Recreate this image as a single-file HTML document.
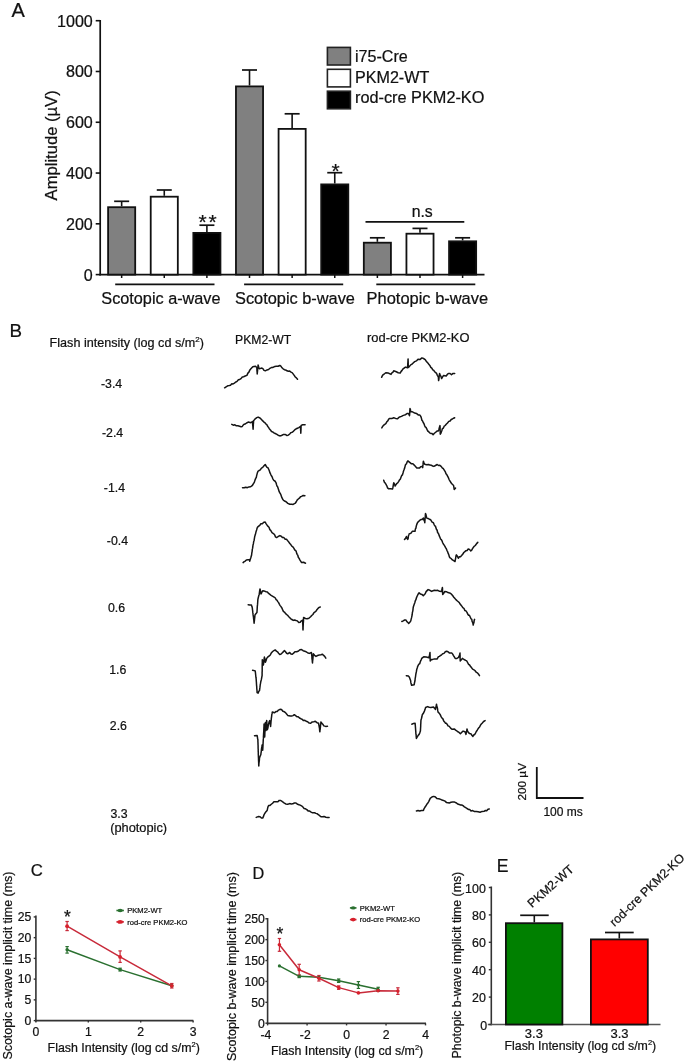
<!DOCTYPE html>
<html><head><meta charset="utf-8"><style>
html,body{margin:0;padding:0;background:#fff;}
body{width:685px;height:1063px;overflow:hidden;}
svg{display:block;font-family:"Liberation Sans", sans-serif;filter:blur(0.35px);}
text{stroke:#111;stroke-width:0.22px;}
</style></head><body>
<svg width="685" height="1063" viewBox="0 0 685 1063">
<rect width="685" height="1063" fill="#fff"/>
<text x="11.5" y="17" font-size="20" text-anchor="start" fill="#111" >A</text>
<line x1="100.2" y1="19.900000000000016" x2="100.2" y2="275.4" stroke="#111" stroke-width="1.7"/>
<line x1="95.7" y1="274.6" x2="100.2" y2="274.6" stroke="#111" stroke-width="1.6"/>
<text x="92.8" y="280.5" font-size="16.1" text-anchor="end" fill="#111" >0</text>
<line x1="95.7" y1="223.82000000000002" x2="100.2" y2="223.82000000000002" stroke="#111" stroke-width="1.6"/>
<text x="92.8" y="229.72000000000003" font-size="16.1" text-anchor="end" fill="#111" >200</text>
<line x1="95.7" y1="173.04000000000002" x2="100.2" y2="173.04000000000002" stroke="#111" stroke-width="1.6"/>
<text x="92.8" y="178.94000000000003" font-size="16.1" text-anchor="end" fill="#111" >400</text>
<line x1="95.7" y1="122.26000000000002" x2="100.2" y2="122.26000000000002" stroke="#111" stroke-width="1.6"/>
<text x="92.8" y="128.16000000000003" font-size="16.1" text-anchor="end" fill="#111" >600</text>
<line x1="95.7" y1="71.48000000000002" x2="100.2" y2="71.48000000000002" stroke="#111" stroke-width="1.6"/>
<text x="92.8" y="77.38000000000002" font-size="16.1" text-anchor="end" fill="#111" >800</text>
<line x1="95.7" y1="20.700000000000017" x2="100.2" y2="20.700000000000017" stroke="#111" stroke-width="1.6"/>
<text x="92.8" y="26.600000000000016" font-size="16.1" text-anchor="end" fill="#111" >1000</text>
<line x1="99.4" y1="274.6" x2="484.5" y2="274.6" stroke="#111" stroke-width="1.7"/>
<text transform="translate(56.5,200.4) rotate(-90)" font-size="16.6" fill="#111">Amplitude (µV)</text>
<line x1="121.65" y1="201.3" x2="121.65" y2="206.3" stroke="#111" stroke-width="1.6"/>
<line x1="114.15" y1="201.3" x2="129.15" y2="201.3" stroke="#111" stroke-width="1.7"/>
<rect x="108.10000000000001" y="207.20000000000002" width="27.099999999999998" height="67.4" fill="#808080" stroke="#111" stroke-width="1.8"/>
<line x1="121.65" y1="274.6" x2="121.65" y2="278" stroke="#111" stroke-width="1.5"/>
<line x1="164.26999999999998" y1="190.0" x2="164.26999999999998" y2="195.8" stroke="#111" stroke-width="1.6"/>
<line x1="156.76999999999998" y1="190.0" x2="171.76999999999998" y2="190.0" stroke="#111" stroke-width="1.7"/>
<rect x="150.72" y="196.70000000000002" width="27.099999999999998" height="77.9" fill="#ffffff" stroke="#111" stroke-width="1.8"/>
<line x1="164.26999999999998" y1="274.6" x2="164.26999999999998" y2="278" stroke="#111" stroke-width="1.5"/>
<line x1="206.89" y1="225.2" x2="206.89" y2="232.0" stroke="#111" stroke-width="1.6"/>
<line x1="199.39" y1="225.2" x2="214.39" y2="225.2" stroke="#111" stroke-width="1.7"/>
<rect x="193.34" y="232.9" width="27.099999999999998" height="41.700000000000024" fill="#000000" stroke="#111" stroke-width="1.8"/>
<line x1="206.89" y1="274.6" x2="206.89" y2="278" stroke="#111" stroke-width="1.5"/>
<line x1="249.51" y1="70.0" x2="249.51" y2="85.5" stroke="#111" stroke-width="1.6"/>
<line x1="242.01" y1="70.0" x2="257.01" y2="70.0" stroke="#111" stroke-width="1.7"/>
<rect x="235.96" y="86.4" width="27.099999999999998" height="188.20000000000002" fill="#808080" stroke="#111" stroke-width="1.8"/>
<line x1="249.51" y1="274.6" x2="249.51" y2="278" stroke="#111" stroke-width="1.5"/>
<line x1="292.13" y1="113.8" x2="292.13" y2="128.0" stroke="#111" stroke-width="1.6"/>
<line x1="284.63" y1="113.8" x2="299.63" y2="113.8" stroke="#111" stroke-width="1.7"/>
<rect x="278.58" y="128.9" width="27.099999999999998" height="145.70000000000002" fill="#ffffff" stroke="#111" stroke-width="1.8"/>
<line x1="292.13" y1="274.6" x2="292.13" y2="278" stroke="#111" stroke-width="1.5"/>
<line x1="334.75" y1="172.7" x2="334.75" y2="183.5" stroke="#111" stroke-width="1.6"/>
<line x1="327.25" y1="172.7" x2="342.25" y2="172.7" stroke="#111" stroke-width="1.7"/>
<rect x="321.2" y="184.4" width="27.099999999999998" height="90.20000000000002" fill="#000000" stroke="#111" stroke-width="1.8"/>
<line x1="334.75" y1="274.6" x2="334.75" y2="278" stroke="#111" stroke-width="1.5"/>
<line x1="377.36999999999995" y1="237.8" x2="377.36999999999995" y2="241.8" stroke="#111" stroke-width="1.6"/>
<line x1="369.86999999999995" y1="237.8" x2="384.86999999999995" y2="237.8" stroke="#111" stroke-width="1.7"/>
<rect x="363.81999999999994" y="242.70000000000002" width="27.099999999999998" height="31.900000000000013" fill="#808080" stroke="#111" stroke-width="1.8"/>
<line x1="377.36999999999995" y1="274.6" x2="377.36999999999995" y2="278" stroke="#111" stroke-width="1.5"/>
<line x1="419.98999999999995" y1="228.4" x2="419.98999999999995" y2="232.8" stroke="#111" stroke-width="1.6"/>
<line x1="412.48999999999995" y1="228.4" x2="427.48999999999995" y2="228.4" stroke="#111" stroke-width="1.7"/>
<rect x="406.43999999999994" y="233.70000000000002" width="27.099999999999998" height="40.90000000000001" fill="#ffffff" stroke="#111" stroke-width="1.8"/>
<line x1="419.98999999999995" y1="274.6" x2="419.98999999999995" y2="278" stroke="#111" stroke-width="1.5"/>
<line x1="462.60999999999996" y1="237.8" x2="462.60999999999996" y2="240.4" stroke="#111" stroke-width="1.6"/>
<line x1="455.10999999999996" y1="237.8" x2="470.10999999999996" y2="237.8" stroke="#111" stroke-width="1.7"/>
<rect x="449.05999999999995" y="241.3" width="27.099999999999998" height="33.30000000000002" fill="#000000" stroke="#111" stroke-width="1.8"/>
<line x1="462.60999999999996" y1="274.6" x2="462.60999999999996" y2="278" stroke="#111" stroke-width="1.5"/>
<line x1="115.2" y1="284.3" x2="214.5" y2="284.3" stroke="#111" stroke-width="1.7"/>
<line x1="244.1" y1="284.3" x2="343.2" y2="284.3" stroke="#111" stroke-width="1.7"/>
<line x1="376.3" y1="284.3" x2="475.3" y2="284.3" stroke="#111" stroke-width="1.7"/>
<text x="101.3" y="303.6" font-size="16.25" text-anchor="start" fill="#111" >Scotopic a-wave</text>
<text x="235.0" y="303.8" font-size="16.35" text-anchor="start" fill="#111" >Scotopic b-wave</text>
<text x="366.6" y="303.6" font-size="16.45" text-anchor="start" fill="#111" >Photopic b-wave</text>
<text x="198.4" y="229.4" font-size="21" text-anchor="start" fill="#111" >*</text>
<text x="208.4" y="229.4" font-size="21" text-anchor="start" fill="#111" >*</text>
<text x="331.4" y="177.6" font-size="21" text-anchor="start" fill="#111" >*</text>
<line x1="365.5" y1="221.8" x2="464.3" y2="221.8" stroke="#111" stroke-width="1.8"/>
<text x="411.7" y="217.0" font-size="15.8" text-anchor="start" fill="#111" >n.s</text>
<rect x="327.4" y="47.4" width="23.0" height="17.6" fill="#808080" stroke="#222" stroke-width="1.6"/>
<rect x="327.4" y="69.3" width="23.0" height="17.6" fill="#ffffff" stroke="#222" stroke-width="1.6"/>
<rect x="327.4" y="91.2" width="23.0" height="17.6" fill="#000000" stroke="#222" stroke-width="1.6"/>
<text x="355.0" y="62.3" font-size="16.1" text-anchor="start" fill="#111" >i75-Cre</text>
<text x="355.0" y="83.2" font-size="16.1" text-anchor="start" fill="#111" >PKM2-WT</text>
<text x="355.0" y="102.5" font-size="16.3" text-anchor="start" fill="#111" >rod-cre PKM2-KO</text>
<text x="9.6" y="337.3" font-size="18.8" text-anchor="start" fill="#111" >B</text>
<text x="49.6" y="346.8" font-size="12.6" fill="#111">Flash intensity (log cd s/m<tspan font-size="8" dy="-4.5">2</tspan><tspan dy="4.5">)</tspan></text>
<text x="235.0" y="343.5" font-size="12.2" text-anchor="start" fill="#111" >PKM2-WT</text>
<text x="367.0" y="341.8" font-size="12.9" text-anchor="start" fill="#111" >rod-cre PKM2-KO</text>
<text x="101.0" y="387.9" font-size="12.3" text-anchor="start" fill="#111" >-3.4</text>
<text x="102.0" y="437.0" font-size="12.3" text-anchor="start" fill="#111" >-2.4</text>
<text x="103.8" y="492.3" font-size="12.3" text-anchor="start" fill="#111" >-1.4</text>
<text x="106.8" y="544.6" font-size="12.3" text-anchor="start" fill="#111" >-0.4</text>
<text x="108.0" y="611.9" font-size="12.3" text-anchor="start" fill="#111" >0.6</text>
<text x="109.2" y="673.9" font-size="12.3" text-anchor="start" fill="#111" >1.6</text>
<text x="109.8" y="729.8" font-size="12.3" text-anchor="start" fill="#111" >2.6</text>
<text x="110.4" y="817.5" font-size="12.3" text-anchor="start" fill="#111" >3.3</text>
<text x="110.2" y="831.6" font-size="12.8" text-anchor="start" fill="#111" >(photopic)</text>
<polyline points="224.6,387.8 226.1,386.8 227.7,385.8 229.2,385.5 230.5,385.2 231.8,383.8 233.1,383.9 234.4,383.1 235.8,382.0 237.1,381.3 238.4,379.8 239.7,379.5 241.0,378.6 242.3,377.0 243.6,376.7 245.2,376.0 246.9,375.4 247.9,373.1 248.9,372.1 249.9,369.9 250.9,368.8 252.8,366.8 255.5,366.2 256.8,367.5 256.9,369.0 257.0,371.2 257.1,371.8 257.2,374.0 257.4,372.1 257.5,371.1 257.6,370.1 257.8,368.0 258.0,366.3 258.1,364.9 258.8,367.5 259.4,368.8 261.4,368.1 262.7,368.4 264.0,370.4 265.3,370.8 267.0,369.9 268.6,369.5 269.9,368.3 271.3,367.6 272.6,367.5 274.6,366.6 276.5,366.2 278.1,366.3 279.8,365.5 280.9,366.2 282.0,367.8 283.1,368.8 284.4,369.7 285.7,370.0 287.0,370.8 288.3,371.3 289.7,371.1 291.0,372.1 292.1,372.6 293.1,373.9 294.2,375.4 295.3,377.0 296.4,377.9 297.5,379.3" fill="none" stroke="#141414" stroke-width="1.5" stroke-linejoin="round" stroke-linecap="round"/>
<polyline points="381.6,377.3 382.4,375.7 383.1,374.7 384.5,373.8 385.8,372.7 388.4,373.1 389.7,373.7 391.0,374.4 391.9,372.9 392.8,372.4 393.7,370.8 396.3,371.8 398.2,372.7 400.2,373.1 401.1,371.4 401.9,370.6 402.8,369.2 404.1,368.2 405.5,367.1 407.5,367.8 407.6,366.8 407.7,365.2 407.8,363.1 407.9,362.5 408.0,359.8 408.1,358.9 408.1,360.2 408.2,362.1 408.2,362.7 408.2,364.6 408.3,365.4 408.3,367.5 409.5,366.4 410.7,364.9 412.0,364.2 413.4,362.8 414.7,361.6 416.4,360.9 418.0,359.2 419.9,359.6 421.9,357.9 423.5,358.5 425.2,359.6 426.1,361.0 426.9,361.9 427.8,362.9 428.8,364.3 429.8,365.4 430.8,367.3 431.8,368.1 432.8,369.9 433.8,370.4 434.7,371.8 435.7,372.7 436.6,373.4 437.4,375.6 438.3,376.7 438.5,378.9 438.6,380.6 438.8,379.9 439.0,378.2 439.2,376.0 439.4,374.7 439.6,373.4 440.3,375.4 440.9,376.2 441.6,378.6 442.6,376.9 443.6,375.4 446.2,376.0 447.5,374.2 448.8,373.4 450.1,373.5 451.5,374.7 453.1,373.4 454.7,373.4" fill="none" stroke="#141414" stroke-width="1.5" stroke-linejoin="round" stroke-linecap="round"/>
<polyline points="231.8,424.4 233.3,425.2 234.9,424.8 236.4,425.8 237.9,425.7 239.5,426.2 241.0,426.7 242.3,426.4 243.7,424.4 245.0,424.1 246.6,423.0 248.2,422.1 250.9,422.7 252.5,421.5 252.6,423.1 252.7,425.2 252.9,426.6 253.0,428.2 253.1,429.3 253.2,427.5 253.3,426.2 253.3,424.7 253.4,424.0 253.5,422.6 253.6,420.5 254.2,420.1 255.5,418.6 256.8,417.6 258.1,417.1 259.4,417.7 260.7,418.7 262.0,420.1 263.0,421.1 264.0,422.2 265.0,422.8 266.0,424.1 266.8,424.6 267.6,426.3 268.5,427.4 269.3,428.7 270.4,429.9 271.5,431.5 272.6,431.9 273.9,432.9 275.2,433.5 276.5,434.2 278.1,435.2 279.8,435.9 281.5,435.5 283.1,434.6 285.1,434.4 287.0,435.5 288.3,435.1 289.7,434.0 291.0,432.6 292.3,432.2 293.6,431.1 294.9,429.7 296.2,428.8 297.5,428.2 298.8,427.6 300.5,426.5 300.6,427.6 300.6,430.0 300.7,430.9 300.8,433.2 300.9,431.1 301.0,429.7 301.0,428.1 301.1,426.8 301.2,425.5 302.8,424.7 305.1,424.7" fill="none" stroke="#141414" stroke-width="1.5" stroke-linejoin="round" stroke-linecap="round"/>
<polyline points="381.8,427.9 382.8,426.2 383.8,425.1 384.8,424.3 385.8,423.7 386.8,421.8 387.8,420.9 388.7,419.1 389.7,418.4 391.7,418.6 393.7,417.7 395.6,418.4 397.6,418.7 398.9,417.4 400.2,416.8 401.5,416.4 402.8,415.6 404.2,415.1 405.5,414.7 407.0,413.6 408.5,413.5 409.5,415.8 409.6,414.8 409.7,413.6 409.8,411.4 409.9,409.9 410.0,408.5 410.4,409.6 410.7,411.8 412.0,411.7 413.4,412.4 414.7,413.1 416.4,413.4 418.2,414.9 419.9,415.1 420.6,416.1 421.2,417.4 421.9,420.2 422.6,421.0 423.2,422.5 423.9,423.5 424.6,425.5 425.2,426.9 426.0,427.4 426.9,429.2 427.7,431.0 428.5,431.5 429.6,432.8 430.8,433.4 432.0,433.6 433.1,434.8 434.4,433.3 435.7,432.2 437.0,431.1 438.3,430.9 438.9,429.5 439.4,427.4 440.0,425.6 440.1,427.4 440.1,428.2 440.1,429.5 440.2,431.8 440.2,433.4 440.3,434.2 440.8,433.4 441.3,432.0 441.8,430.7 442.3,428.9 443.3,428.1 444.2,426.2 445.2,425.5 446.2,424.3 447.5,423.0 448.8,421.4 450.1,421.0 451.2,419.5 452.4,419.0 453.6,418.2 454.7,417.7" fill="none" stroke="#141414" stroke-width="1.5" stroke-linejoin="round" stroke-linecap="round"/>
<polyline points="242.5,487.8 244.2,487.8 245.8,487.2 247.3,487.7 248.9,486.9 250.4,486.8 251.5,486.2 252.6,485.1 253.7,483.2 254.3,482.4 255.0,480.1 255.7,478.4 256.3,477.3 256.7,475.4 257.1,473.9 257.5,472.5 257.9,471.4 259.1,470.5 260.3,469.8 261.5,468.1 262.7,467.4 264.0,465.7 265.2,464.5 266.1,466.0 267.0,467.4 267.9,467.7 268.8,469.5 269.4,471.0 269.9,472.7 270.5,473.8 271.0,475.1 271.6,476.0 272.1,476.8 272.7,478.6 273.8,480.3 274.9,481.0 276.0,482.6 276.5,484.5 277.0,486.1 277.6,486.8 278.1,488.2 278.6,489.8 279.2,491.7 279.7,492.7 280.2,493.3 280.8,494.5 281.3,495.9 281.9,497.7 282.8,499.4 283.6,500.3 284.5,501.0 286.1,501.7 287.8,503.4 289.8,504.3 291.8,504.3 293.1,504.4 294.4,503.6 295.4,503.1 296.4,501.5 297.3,499.9 298.3,499.0 299.4,498.2 300.5,496.8 301.6,496.4 303.2,495.4 304.9,495.7" fill="none" stroke="#141414" stroke-width="1.5" stroke-linejoin="round" stroke-linecap="round"/>
<polyline points="383.7,480.2 384.4,482.2 385.2,483.1 385.9,484.2 386.8,485.8 387.6,487.9 388.5,488.8 390.5,488.8 392.5,489.0 392.8,488.0 393.1,486.4 393.5,483.9 393.8,482.8 394.5,484.1 395.1,486.1 396.0,484.7 396.8,483.5 397.7,482.8 398.6,481.6 399.5,479.9 400.4,478.9 401.0,477.3 401.7,475.4 402.4,475.0 403.0,473.0 403.4,471.4 403.9,470.1 404.3,468.9 404.7,467.9 405.2,465.8 405.6,464.5 406.4,463.9 407.1,462.0 407.9,460.8 409.1,461.8 410.3,462.8 411.5,463.8 412.9,463.8 414.2,465.1 415.5,466.5 416.8,468.0 419.4,468.1 420.7,466.8 422.0,466.4 422.7,467.7 422.9,465.4 423.0,464.9 423.2,462.4 423.4,461.2 424.0,462.7 424.7,464.2 426.6,464.7 428.6,464.5 429.9,465.1 431.2,465.2 432.6,466.0 433.9,466.4 435.5,465.5 437.2,464.5 438.5,465.5 439.8,465.2 441.1,466.4 442.2,467.8 443.3,468.7 444.4,470.4 445.2,471.6 446.0,473.7 446.9,474.8 447.7,476.3 448.4,477.7 449.0,479.3 449.7,480.8 450.3,481.4 451.0,482.8 452.3,484.3 453.6,485.5 453.9,487.5 454.2,489.4 455.5,488.1" fill="none" stroke="#141414" stroke-width="1.5" stroke-linejoin="round" stroke-linecap="round"/>
<polyline points="243.1,562.6 244.2,561.7 245.3,561.1 246.4,559.9 247.9,559.7 249.4,559.7 249.7,561.2 250.2,559.5 250.8,557.7 251.3,556.0 251.6,555.0 251.8,553.0 252.1,551.6 252.3,549.4 252.6,548.4 252.9,545.9 253.1,544.7 253.4,543.7 253.7,541.5 254.1,540.4 254.5,537.8 254.8,536.2 255.2,535.1 255.6,533.6 256.1,531.4 256.6,530.0 257.1,528.1 257.6,527.1 258.7,526.2 259.8,525.3 260.9,523.8 262.3,523.8 263.8,522.2 265.2,522.1 266.2,523.8 267.1,525.2 268.1,526.4 269.0,527.2 269.8,529.6 270.7,530.4 272.0,532.7 273.4,533.6 274.5,534.5 275.5,536.9 276.6,537.6 278.2,536.5 279.9,535.6 281.2,536.2 282.6,537.6 283.9,537.6 285.2,539.2 286.5,539.3 287.8,540.9 288.8,542.1 289.8,543.5 290.8,544.6 291.8,546.1 292.8,546.8 293.8,548.1 294.7,549.9 295.7,550.7 296.2,551.3 296.7,553.4 297.3,554.6 297.8,555.3 298.3,557.3 299.1,558.4 300.0,560.1 300.8,561.3 301.6,562.6 303.6,562.3 305.5,563.2" fill="none" stroke="#141414" stroke-width="1.5" stroke-linejoin="round" stroke-linecap="round"/>
<polyline points="404.5,539.4 405.4,538.6 406.4,536.5 407.0,538.4 407.7,539.4 408.1,538.7 408.4,536.1 408.8,534.9 409.1,533.9 411.0,533.2 412.3,531.3 415.0,531.3 415.4,528.9 415.9,528.2 416.3,526.0 416.8,524.4 417.4,522.9 417.9,522.1 419.4,520.7 420.9,519.5 422.2,519.4 423.5,518.1 423.9,520.1 424.4,520.8 424.8,522.7 424.9,520.7 425.0,520.2 425.1,518.2 425.3,516.8 425.4,514.5 425.5,513.5 425.9,514.4 426.4,516.8 426.8,518.1 428.1,518.5 429.4,519.2 430.7,519.8 432.1,522.1 433.4,522.7 434.0,524.2 434.7,525.8 435.4,526.1 436.0,528.0 436.6,529.8 437.1,530.0 437.6,532.5 438.2,533.2 438.8,534.4 439.3,535.9 439.9,537.3 440.6,539.1 441.2,539.5 441.9,540.6 442.6,542.5 443.2,543.8 444.0,544.9 444.8,546.1 445.6,547.6 446.4,548.9 447.2,551.0 447.7,551.9 448.2,553.4 448.8,554.7 449.3,556.6 449.8,557.6 451.1,558.5 452.4,559.9 453.7,560.7 455.0,561.5 455.4,559.4 455.7,558.0 456.0,555.9 456.4,554.9 457.4,556.2 458.3,558.2 459.4,556.7 460.5,556.8 461.6,555.6 462.7,554.3 463.8,552.5 464.9,551.6 466.0,550.7 467.1,550.5 468.2,549.0 469.5,549.4 470.8,551.0 471.6,550.3 472.5,548.6 473.3,547.5 474.1,546.4 475.3,545.5 476.6,543.6 477.8,542.4" fill="none" stroke="#141414" stroke-width="1.5" stroke-linejoin="round" stroke-linecap="round"/>
<polyline points="248.2,604.7 249.8,604.9 251.4,605.0 251.9,606.6 252.3,607.7 252.5,609.8 252.6,610.3 252.8,612.4 253.0,613.6 253.1,614.9 253.3,616.1 253.5,617.4 253.6,618.8 253.8,619.8 253.9,621.3 254.1,623.3 254.3,621.3 254.4,620.8 254.6,618.7 254.8,617.1 254.9,615.6 255.1,614.7 256.9,612.6 257.0,611.6 257.1,610.2 257.2,608.4 257.3,606.4 257.5,604.9 257.6,603.5 257.7,602.3 257.8,600.4 257.9,599.4 258.2,598.0 258.6,596.3 258.9,595.3 259.2,594.4 259.4,592.8 259.7,590.6 260.0,589.0 260.4,590.3 260.7,592.9 261.1,593.9 261.9,592.1 262.7,590.8 264.4,591.1 266.2,591.8 267.4,592.0 268.6,593.4 269.9,594.4 271.1,595.3 272.8,596.3 274.5,597.3 275.3,598.0 276.1,599.6 276.9,600.1 277.8,601.6 278.6,602.6 279.4,604.3 280.2,605.6 281.0,606.6 281.9,608.0 282.7,609.9 283.5,611.6 284.6,612.2 285.6,613.6 286.6,614.5 287.7,615.4 288.8,616.8 289.8,617.7 290.8,618.8 291.9,619.5 293.3,620.4 294.6,620.0 296.0,620.5 297.4,620.9 298.8,622.4 300.2,622.3 301.4,620.8 302.6,620.2 302.7,622.1 302.7,623.6 302.8,624.4 302.9,627.1 302.9,628.8 303.0,629.9 303.1,628.5 303.1,627.1 303.2,625.6 303.3,623.1 303.4,622.1 303.5,620.5 303.5,619.4 303.6,617.4 305.4,618.5 307.1,618.8 308.9,618.3 310.6,616.8 311.7,615.5 312.9,614.5 314.0,612.6 315.1,611.9 316.1,611.0 317.1,609.4 318.2,608.2 319.2,607.4 320.3,607.0" fill="none" stroke="#141414" stroke-width="1.5" stroke-linejoin="round" stroke-linecap="round"/>
<polyline points="401.8,621.5 403.2,620.8 404.6,620.0 406.0,620.1 406.9,621.7 407.8,622.4 408.7,623.5 409.8,622.3 410.8,620.8 411.1,619.4 411.5,617.9 411.9,616.1 412.2,614.5 412.4,612.3 412.6,611.9 412.9,610.3 413.1,608.4 413.3,606.9 413.8,605.5 414.3,604.1 414.8,602.8 415.4,600.4 415.9,599.8 416.4,597.9 417.1,596.3 417.8,594.8 418.4,593.7 419.1,592.8 420.5,594.1 421.9,594.4 423.3,595.8 424.2,594.7 425.2,593.7 426.1,591.6 427.1,590.6 428.1,589.6 429.9,590.3 431.6,591.4 433.0,590.8 434.4,590.3 436.1,590.6 437.8,590.3 439.6,591.3 441.3,591.6 441.7,590.4 442.0,589.1 442.4,587.5 442.5,588.6 442.5,590.5 442.6,592.3 442.7,594.4 443.8,593.2 444.8,591.4 446.4,591.7 448.0,592.6 449.6,593.0 450.7,593.4 451.7,594.5 452.8,595.8 453.8,597.2 455.0,598.6 456.2,599.9 457.4,601.0 458.6,602.0 459.4,602.8 460.3,604.3 461.1,605.3 462.0,606.4 462.8,607.6 463.9,608.3 464.9,610.6 465.9,610.8 467.0,612.4 467.8,614.2 468.6,615.3 469.4,615.2 470.2,617.0 471.0,618.7 471.8,619.4 472.1,621.5 472.5,622.1 472.9,623.3 473.2,625.0 473.6,623.2 473.9,622.8 474.2,620.4 474.6,619.4" fill="none" stroke="#141414" stroke-width="1.5" stroke-linejoin="round" stroke-linecap="round"/>
<polyline points="252.6,670.2 255.2,670.9 255.4,672.4 255.5,673.2 255.7,675.2 255.9,677.2 256.0,677.5 256.2,679.4 256.3,681.3 256.4,682.3 256.5,684.3 256.6,685.6 256.7,686.4 256.8,688.8 256.9,689.6 257.0,690.5 257.1,692.6 258.1,693.2 258.8,691.2 259.5,690.6 259.7,689.1 259.9,687.7 260.1,686.0 260.3,684.3 260.5,683.4 260.9,681.2 261.4,679.4 261.8,677.2 262.1,675.5 262.1,674.5 262.1,671.9 262.2,671.5 262.2,670.2 262.2,667.8 262.2,667.5 262.2,665.7 262.2,664.6 262.3,662.3 262.3,661.0 262.3,659.7 262.7,661.3 263.0,663.9 263.4,665.0 263.6,663.5 263.8,661.6 264.0,660.2 264.2,658.4 264.4,657.1 264.7,658.2 265.1,660.0 265.4,662.3 266.0,660.8 266.7,658.4 268.0,656.8 269.3,655.8 270.3,655.0 271.3,652.9 272.6,651.5 273.9,650.6 275.2,649.9 276.4,651.1 277.5,651.8 278.6,653.2 279.8,654.5 280.9,654.1 282.1,653.0 283.2,651.9 284.4,650.5 285.5,651.8 286.6,653.3 287.7,653.8 289.7,652.5 291.0,654.0 292.3,654.2 293.6,653.1 294.9,651.8 296.5,651.8 298.2,651.2 299.9,649.7 301.5,649.5 303.1,650.7 304.8,651.2 306.3,651.9 307.9,653.0 309.4,653.4 311.4,652.5 311.6,654.2 311.7,655.2 311.9,656.4 312.0,659.1 312.2,659.5 312.3,661.5 312.5,663.0 312.6,661.2 312.8,659.7 312.9,658.7 313.0,657.5 313.2,655.0 313.3,653.8 314.6,655.3 316.0,656.4 317.6,655.5 319.2,655.1 320.9,654.7 322.5,654.2 323.6,655.4 324.7,656.3 325.8,658.1" fill="none" stroke="#141414" stroke-width="1.5" stroke-linejoin="round" stroke-linecap="round"/>
<polyline points="406.3,675.7 408.5,676.1 409.4,677.3 410.2,679.4 410.6,680.5 410.9,682.9 411.2,683.8 411.6,685.3 414.2,684.7 414.5,682.7 414.7,682.1 415.0,680.7 415.2,678.3 415.5,676.8 415.8,674.5 416.1,672.8 416.4,671.5 416.8,669.2 417.3,667.8 417.7,666.3 418.7,664.4 419.7,663.7 420.2,662.0 420.7,660.7 421.2,659.8 421.7,658.4 423.7,656.8 426.3,657.1 428.9,657.7 429.3,656.5 429.6,654.6 430.0,652.5 430.0,653.8 430.1,655.2 430.1,656.8 430.1,658.0 430.2,659.4 430.2,661.0 431.5,659.6 432.8,659.4 434.5,658.9 436.1,659.1 437.2,658.9 438.3,656.8 439.4,656.4 440.5,655.5 441.6,654.8 442.7,653.8 444.0,653.4 445.3,651.7 446.6,651.2 448.0,651.7 449.3,652.9 451.9,653.1 452.7,654.1 453.5,655.6 454.4,657.0 455.2,658.4 456.9,658.5 458.5,657.3 459.0,656.4 459.5,655.0 460.0,653.1 460.0,654.0 460.1,655.6 460.1,658.1 460.2,660.0 460.2,661.0 461.3,659.7 462.4,658.4 464.0,659.5 465.7,660.4 466.7,660.9 467.6,662.5 468.6,664.4 469.6,665.0 470.6,666.6 471.6,667.8 472.6,669.1 473.6,669.6 474.9,670.5 476.2,672.2 477.3,672.8 478.4,674.0 479.5,675.7" fill="none" stroke="#141414" stroke-width="1.5" stroke-linejoin="round" stroke-linecap="round"/>
<polyline points="254.5,735.7 257.1,735.5 257.4,736.9 257.6,738.6 257.9,739.7 257.9,741.7 258.0,742.9 258.0,744.2 258.1,745.8 258.1,746.8 258.1,748.3 258.2,749.0 258.2,751.5 258.3,752.2 258.3,754.5 258.4,755.6 258.4,756.8 258.5,758.1 258.5,759.3 258.6,761.1 258.7,763.1 258.7,764.7 258.8,766.0 258.9,763.9 259.1,762.2 259.2,761.3 259.4,759.8 259.5,758.1 260.1,756.3 260.8,754.8 261.0,753.0 261.2,752.1 261.4,749.9 261.5,748.9 261.7,747.7 261.9,747.0 262.1,744.9 262.3,746.9 262.5,749.0 262.7,750.2 262.8,748.7 262.9,746.9 263.0,745.4 263.0,744.9 263.1,743.1 263.2,741.1 263.3,739.2 263.4,738.4 263.5,736.9 263.5,735.7 263.6,733.9 263.7,732.3 263.8,731.4 263.8,730.3 263.9,727.9 264.0,726.1 264.0,725.1 264.1,723.9 264.2,725.2 264.2,727.1 264.3,727.8 264.4,730.1 264.4,731.5 264.5,732.6 264.6,733.7 264.6,736.2 264.7,737.0 264.8,735.3 264.8,734.6 264.9,732.3 265.0,730.9 265.0,730.2 265.1,728.1 265.2,727.6 265.3,725.5 265.3,723.6 265.4,722.6 265.5,723.8 265.6,725.6 265.8,727.6 265.9,729.5 266.0,730.5 266.1,728.6 266.2,727.5 266.3,725.9 266.4,725.5 266.5,722.9 266.6,721.4 266.7,720.6 266.8,721.5 266.9,723.5 267.0,725.8 267.1,727.3 267.2,728.6 267.3,729.8 267.6,729.0 268.0,727.5 268.3,725.1 268.6,723.9 269.1,721.8 269.7,720.6 269.9,722.7 270.1,723.9 270.4,724.4 270.6,726.5 270.7,725.2 270.9,723.2 271.0,721.6 271.2,720.0 271.3,718.7 271.6,716.6 271.8,714.7 272.1,713.4 272.3,712.1 274.6,712.7 275.9,711.6 277.2,711.6 278.5,710.1 280.0,709.3 281.5,709.5 282.9,711.3 284.4,711.8 285.5,712.6 286.6,714.0 287.7,715.4 290.3,716.0 291.6,716.0 293.0,715.6 294.3,714.7 295.6,715.6 296.9,716.7 298.2,716.7 299.5,718.0 300.8,718.7 302.1,719.2 303.5,720.6 304.8,720.2 306.1,721.3 307.6,721.7 309.2,723.1 310.7,723.2 312.2,721.9 313.8,721.8 315.3,721.3 317.0,722.7 318.6,723.2 318.8,725.0 319.0,725.4 319.2,726.8 319.5,728.3 319.7,731.0 319.9,731.8 320.0,730.0 320.2,729.3 320.3,728.1 320.5,725.9 320.6,724.4 320.8,724.0 320.9,721.9 321.9,723.4 322.8,724.2 323.8,725.9 325.6,726.4 327.5,726.3" fill="none" stroke="#141414" stroke-width="1.5" stroke-linejoin="round" stroke-linecap="round"/>
<polyline points="411.8,724.2 413.5,723.4 415.1,723.2 415.2,724.3 415.3,725.4 415.5,727.9 415.6,729.5 415.7,730.6 415.8,731.8 415.9,734.1 416.1,734.4 416.2,736.4 416.4,738.4 417.4,736.7 418.4,735.1 419.1,734.4 419.7,733.1 420.4,731.1 420.5,729.4 420.6,727.6 420.7,726.2 420.7,724.7 420.8,723.8 420.9,721.1 421.0,720.0 421.4,718.7 421.9,716.8 422.3,714.7 423.7,712.7 424.3,711.4 425.0,709.6 425.6,707.5 427.6,706.6 429.2,707.2 430.9,707.5 433.5,707.1 434.5,708.1 435.5,709.5 435.8,707.5 436.2,705.8 436.5,704.2 436.8,706.2 437.1,706.8 437.5,708.5 437.8,710.9 438.1,712.1 438.9,712.9 439.7,713.9 440.4,715.0 441.2,716.9 442.0,718.0 442.9,718.9 443.7,720.9 444.6,721.9 445.4,723.2 446.3,723.3 447.1,724.2 448.0,725.9 449.3,726.4 450.6,728.1 451.9,729.2 454.5,728.9 455.6,730.2 456.7,730.8 457.8,731.8 459.1,732.4 460.4,733.8 461.8,732.3 463.1,731.1 465.0,731.8 466.0,734.4 466.3,732.7 466.7,731.0 467.0,728.9 467.6,731.0 468.3,732.4 469.6,733.6 471.0,733.8 471.9,735.3 472.9,736.4 473.8,734.8 474.6,734.7 475.5,733.1 476.3,731.5 477.1,730.5 478.0,728.9 478.8,727.8 479.6,727.0 480.5,725.1 481.3,724.0 482.1,723.2 483.6,721.5 485.1,720.6" fill="none" stroke="#141414" stroke-width="1.5" stroke-linejoin="round" stroke-linecap="round"/>
<polyline points="256.2,817.4 258.1,816.6 260.1,816.8 261.4,818.0 262.7,818.1 263.4,816.7 264.0,814.8 264.7,813.5 265.7,812.1 266.7,810.9 267.2,810.3 267.6,808.3 268.1,806.5 268.6,805.6 270.0,805.4 271.3,804.3 272.6,803.2 273.9,801.7 276.5,801.7 277.9,801.7 279.2,800.4 280.8,800.5 282.4,801.7 284.0,802.8 285.7,803.9 287.7,804.2 289.7,803.6 291.2,803.9 292.8,803.8 294.3,803.0 296.0,803.0 297.6,804.3 298.9,804.7 300.2,805.1 301.5,805.8 302.8,806.9 304.1,808.5 305.5,808.8 306.8,809.6 308.1,810.9 309.4,810.9 310.7,811.8 312.6,812.8 314.6,812.8 315.9,813.4 317.3,813.8 318.6,814.8 319.9,815.9 321.2,816.8 322.5,816.8 324.1,816.4 325.8,817.2 327.5,817.4 329.1,817.4" fill="none" stroke="#141414" stroke-width="1.5" stroke-linejoin="round" stroke-linecap="round"/>
<polyline points="416.4,810.9 418.0,810.5 419.7,810.9 421.5,810.5 423.4,810.5 424.1,808.6 424.9,807.3 425.6,806.3 426.8,804.3 427.9,803.0 428.7,801.6 429.4,800.1 430.2,798.4 431.9,797.0 433.5,796.4 435.1,796.7 436.8,798.4 438.8,798.7 440.7,799.4 442.0,800.1 443.4,800.4 445.0,801.1 446.6,802.6 449.3,803.0 451.0,802.3 452.6,802.1 454.6,802.1 456.5,803.0 457.8,804.1 459.1,804.4 460.4,805.0 461.7,805.0 463.0,805.7 464.4,806.8 465.7,807.6 467.0,808.5 468.4,809.4 469.7,809.5 471.0,810.9 472.7,810.6 474.5,811.6 476.2,811.5 478.1,811.7 480.1,812.2 482.1,811.4 484.1,811.3 485.4,810.4 486.7,810.7 488.0,809.2 489.3,808.9" fill="none" stroke="#141414" stroke-width="1.5" stroke-linejoin="round" stroke-linecap="round"/>
<line x1="536.8" y1="767" x2="536.8" y2="798.8" stroke="#111" stroke-width="1.8"/>
<line x1="536.0" y1="798.0" x2="583.5" y2="798.0" stroke="#111" stroke-width="1.8"/>
<text transform="translate(525.7,800.6) rotate(-90)" font-size="11.8" fill="#111">200 µV</text>
<text x="543.4" y="816.3" font-size="12.0" text-anchor="start" fill="#111" >100 ms</text>
<text x="30.8" y="876.3" font-size="16.8" text-anchor="start" fill="#111" >C</text>
<line x1="35.9" y1="915.6" x2="35.9" y2="1021.4" stroke="#333" stroke-width="1.6"/>
<line x1="35.1" y1="1020.6" x2="193.3" y2="1020.6" stroke="#333" stroke-width="1.6"/>
<line x1="33.699999999999996" y1="1020.6" x2="35.9" y2="1020.6" stroke="#333" stroke-width="1.4"/>
<text x="31.4" y="1024.9" font-size="12.2" text-anchor="end" fill="#111" >0</text>
<line x1="33.699999999999996" y1="999.865" x2="35.9" y2="999.865" stroke="#333" stroke-width="1.4"/>
<text x="31.4" y="1004.165" font-size="12.2" text-anchor="end" fill="#111" >5</text>
<line x1="33.699999999999996" y1="979.13" x2="35.9" y2="979.13" stroke="#333" stroke-width="1.4"/>
<text x="31.4" y="983.43" font-size="12.2" text-anchor="end" fill="#111" >10</text>
<line x1="33.699999999999996" y1="958.395" x2="35.9" y2="958.395" stroke="#333" stroke-width="1.4"/>
<text x="31.4" y="962.6949999999999" font-size="12.2" text-anchor="end" fill="#111" >15</text>
<line x1="33.699999999999996" y1="937.6600000000001" x2="35.9" y2="937.6600000000001" stroke="#333" stroke-width="1.4"/>
<text x="31.4" y="941.96" font-size="12.2" text-anchor="end" fill="#111" >20</text>
<line x1="33.699999999999996" y1="916.925" x2="35.9" y2="916.925" stroke="#333" stroke-width="1.4"/>
<text x="31.4" y="921.2249999999999" font-size="12.2" text-anchor="end" fill="#111" >25</text>
<line x1="35.9" y1="1020.6" x2="35.9" y2="1022.6" stroke="#333" stroke-width="1.4"/>
<text x="35.9" y="1035.6" font-size="12.2" text-anchor="middle" fill="#111" >0</text>
<line x1="88.3" y1="1020.6" x2="88.3" y2="1022.6" stroke="#333" stroke-width="1.4"/>
<text x="88.3" y="1035.6" font-size="12.2" text-anchor="middle" fill="#111" >1</text>
<line x1="140.7" y1="1020.6" x2="140.7" y2="1022.6" stroke="#333" stroke-width="1.4"/>
<text x="140.7" y="1035.6" font-size="12.2" text-anchor="middle" fill="#111" >2</text>
<line x1="193.1" y1="1020.6" x2="193.1" y2="1022.6" stroke="#333" stroke-width="1.4"/>
<text x="193.1" y="1035.6" font-size="12.2" text-anchor="middle" fill="#111" >3</text>
<text x="47.6" y="1051.8" font-size="12.4" fill="#111">Flash Intensity (log cd s/m<tspan font-size="7.5" dy="-4.5">2</tspan><tspan dy="4.5">)</tspan></text>
<text transform="translate(11.6,1059.6) rotate(-90)" font-size="12.45" fill="#111">Scotopic a-wave implicit time (ms)</text>
<polyline points="67.1,949.8 120.1,969.6 171.8,985.8" fill="none" stroke="#2a7030" stroke-width="1.5" stroke-linejoin="round" stroke-linecap="round"/>
<polyline points="67.1,926.2 120.1,956.9 171.8,985.8" fill="none" stroke="#c82a3a" stroke-width="1.5" stroke-linejoin="round" stroke-linecap="round"/>
<line x1="67.1" y1="946.6" x2="67.1" y2="953.1" stroke="#2a7030" stroke-width="1.2"/>
<line x1="65.39999999999999" y1="946.6" x2="68.8" y2="946.6" stroke="#2a7030" stroke-width="1.2"/>
<line x1="65.39999999999999" y1="953.1" x2="68.8" y2="953.1" stroke="#2a7030" stroke-width="1.2"/>
<line x1="120.1" y1="968.2" x2="120.1" y2="971.0" stroke="#2a7030" stroke-width="1.2"/>
<line x1="118.39999999999999" y1="968.2" x2="121.8" y2="968.2" stroke="#2a7030" stroke-width="1.2"/>
<line x1="118.39999999999999" y1="971.0" x2="121.8" y2="971.0" stroke="#2a7030" stroke-width="1.2"/>
<line x1="67.1" y1="921.5" x2="67.1" y2="930.6" stroke="#c82a3a" stroke-width="1.2"/>
<line x1="65.39999999999999" y1="921.5" x2="68.8" y2="921.5" stroke="#c82a3a" stroke-width="1.2"/>
<line x1="65.39999999999999" y1="930.6" x2="68.8" y2="930.6" stroke="#c82a3a" stroke-width="1.2"/>
<line x1="120.1" y1="950.9" x2="120.1" y2="962.4" stroke="#c82a3a" stroke-width="1.2"/>
<line x1="118.39999999999999" y1="950.9" x2="121.8" y2="950.9" stroke="#c82a3a" stroke-width="1.2"/>
<line x1="118.39999999999999" y1="962.4" x2="121.8" y2="962.4" stroke="#c82a3a" stroke-width="1.2"/>
<line x1="171.8" y1="983.5" x2="171.8" y2="988.0" stroke="#c82a3a" stroke-width="1.2"/>
<line x1="170.10000000000002" y1="983.5" x2="173.5" y2="983.5" stroke="#c82a3a" stroke-width="1.2"/>
<line x1="170.10000000000002" y1="988.0" x2="173.5" y2="988.0" stroke="#c82a3a" stroke-width="1.2"/>
<circle cx="67.1" cy="949.8" r="1.7" fill="#2a7030"/>
<circle cx="120.1" cy="969.6" r="1.7" fill="#2a7030"/>
<circle cx="171.8" cy="985.8" r="1.7" fill="#2a7030"/>
<circle cx="67.1" cy="926.2" r="1.9" fill="#d8202c"/>
<circle cx="120.1" cy="956.9" r="1.9" fill="#d8202c"/>
<circle cx="171.8" cy="985.8" r="1.9" fill="#d8202c"/>
<text x="64.0" y="923.3" font-size="17.5" text-anchor="start" fill="#111" >*</text>
<line x1="116.4" y1="910.5" x2="123.9" y2="910.5" stroke="#2a7030" stroke-width="1.6"/>
<ellipse cx="120.2" cy="910.5" rx="2.6" ry="1.7" fill="#2a7030"/>
<line x1="116.4" y1="921.9" x2="123.9" y2="921.9" stroke="#c82a3a" stroke-width="1.6"/>
<ellipse cx="120.2" cy="921.9" rx="2.8" ry="1.9" fill="#d8202c"/>
<text x="127.2" y="913.3" font-size="7.6" text-anchor="start" fill="#111" >PKM2-WT</text>
<text x="127.2" y="924.7" font-size="7.6" text-anchor="start" fill="#111" >rod-cre PKM2-KO</text>
<text x="252.4" y="878.9" font-size="16.3" text-anchor="start" fill="#111" >D</text>
<line x1="267.6" y1="918.0" x2="267.6" y2="1024.0" stroke="#333" stroke-width="1.6"/>
<line x1="266.8" y1="1023.4" x2="426.0" y2="1023.4" stroke="#333" stroke-width="1.7"/>
<line x1="265.40000000000003" y1="1023.2" x2="267.6" y2="1023.2" stroke="#333" stroke-width="1.4"/>
<text x="264.8" y="1027.5" font-size="12.2" text-anchor="end" fill="#111" >0</text>
<line x1="265.40000000000003" y1="1002.3100000000001" x2="267.6" y2="1002.3100000000001" stroke="#333" stroke-width="1.4"/>
<text x="264.8" y="1006.61" font-size="12.2" text-anchor="end" fill="#111" >50</text>
<line x1="265.40000000000003" y1="981.4200000000001" x2="267.6" y2="981.4200000000001" stroke="#333" stroke-width="1.4"/>
<text x="264.8" y="985.72" font-size="12.2" text-anchor="end" fill="#111" >100</text>
<line x1="265.40000000000003" y1="960.5300000000001" x2="267.6" y2="960.5300000000001" stroke="#333" stroke-width="1.4"/>
<text x="264.8" y="964.83" font-size="12.2" text-anchor="end" fill="#111" >150</text>
<line x1="265.40000000000003" y1="939.6400000000001" x2="267.6" y2="939.6400000000001" stroke="#333" stroke-width="1.4"/>
<text x="264.8" y="943.94" font-size="12.2" text-anchor="end" fill="#111" >200</text>
<line x1="265.40000000000003" y1="918.75" x2="267.6" y2="918.75" stroke="#333" stroke-width="1.4"/>
<text x="264.8" y="923.05" font-size="12.2" text-anchor="end" fill="#111" >250</text>
<line x1="267.6" y1="1023.4" x2="267.6" y2="1025.4" stroke="#333" stroke-width="1.4"/>
<text x="265.8" y="1038.6" font-size="12.2" text-anchor="middle" fill="#111" >-4</text>
<line x1="307.08000000000004" y1="1023.4" x2="307.08000000000004" y2="1025.4" stroke="#333" stroke-width="1.4"/>
<text x="305.28000000000003" y="1038.6" font-size="12.2" text-anchor="middle" fill="#111" >-2</text>
<line x1="346.56" y1="1023.4" x2="346.56" y2="1025.4" stroke="#333" stroke-width="1.4"/>
<text x="346.56" y="1038.6" font-size="12.2" text-anchor="middle" fill="#111" >0</text>
<line x1="386.04" y1="1023.4" x2="386.04" y2="1025.4" stroke="#333" stroke-width="1.4"/>
<text x="386.04" y="1038.6" font-size="12.2" text-anchor="middle" fill="#111" >2</text>
<line x1="425.52" y1="1023.4" x2="425.52" y2="1025.4" stroke="#333" stroke-width="1.4"/>
<text x="425.52" y="1038.6" font-size="12.2" text-anchor="middle" fill="#111" >4</text>
<text x="271.0" y="1054.9" font-size="12.4" fill="#111">Flash Intensity (log cd s/m<tspan font-size="7.5" dy="-4.5">2</tspan><tspan dy="4.5">)</tspan></text>
<text transform="translate(236.4,1061.0) rotate(-90)" font-size="12.5" fill="#111">Scotopic b-wave implicit time (ms)</text>
<polyline points="279.4,965.9 299.2,976.3 318.9,977.3 338.7,980.7 358.4,985.0 378.1,989.3" fill="none" stroke="#2a7030" stroke-width="1.5" stroke-linejoin="round" stroke-linecap="round"/>
<polyline points="279.4,944.7 299.2,969.8 318.9,978.2 338.7,987.6 358.4,992.9 378.1,990.7 397.9,991.1" fill="none" stroke="#c82a3a" stroke-width="1.5" stroke-linejoin="round" stroke-linecap="round"/>
<line x1="299.184" y1="975.0" x2="299.184" y2="977.6" stroke="#2a7030" stroke-width="1.2"/>
<line x1="297.48400000000004" y1="975.0" x2="300.884" y2="975.0" stroke="#2a7030" stroke-width="1.2"/>
<line x1="297.48400000000004" y1="977.6" x2="300.884" y2="977.6" stroke="#2a7030" stroke-width="1.2"/>
<line x1="338.664" y1="979.0" x2="338.664" y2="982.4" stroke="#2a7030" stroke-width="1.2"/>
<line x1="336.964" y1="979.0" x2="340.364" y2="979.0" stroke="#2a7030" stroke-width="1.2"/>
<line x1="336.964" y1="982.4" x2="340.364" y2="982.4" stroke="#2a7030" stroke-width="1.2"/>
<line x1="358.404" y1="981.6" x2="358.404" y2="988.4" stroke="#2a7030" stroke-width="1.2"/>
<line x1="356.704" y1="981.6" x2="360.104" y2="981.6" stroke="#2a7030" stroke-width="1.2"/>
<line x1="356.704" y1="988.4" x2="360.104" y2="988.4" stroke="#2a7030" stroke-width="1.2"/>
<line x1="378.144" y1="987.3" x2="378.144" y2="991.3" stroke="#2a7030" stroke-width="1.2"/>
<line x1="376.444" y1="987.3" x2="379.844" y2="987.3" stroke="#2a7030" stroke-width="1.2"/>
<line x1="376.444" y1="991.3" x2="379.844" y2="991.3" stroke="#2a7030" stroke-width="1.2"/>
<line x1="279.444" y1="938.5" x2="279.444" y2="951.3" stroke="#c82a3a" stroke-width="1.2"/>
<line x1="277.744" y1="938.5" x2="281.144" y2="938.5" stroke="#c82a3a" stroke-width="1.2"/>
<line x1="277.744" y1="951.3" x2="281.144" y2="951.3" stroke="#c82a3a" stroke-width="1.2"/>
<line x1="299.184" y1="964.3" x2="299.184" y2="975.3" stroke="#c82a3a" stroke-width="1.2"/>
<line x1="297.48400000000004" y1="964.3" x2="300.884" y2="964.3" stroke="#c82a3a" stroke-width="1.2"/>
<line x1="297.48400000000004" y1="975.3" x2="300.884" y2="975.3" stroke="#c82a3a" stroke-width="1.2"/>
<line x1="318.92400000000004" y1="975.5" x2="318.92400000000004" y2="981.0" stroke="#c82a3a" stroke-width="1.2"/>
<line x1="317.22400000000005" y1="975.5" x2="320.624" y2="975.5" stroke="#c82a3a" stroke-width="1.2"/>
<line x1="317.22400000000005" y1="981.0" x2="320.624" y2="981.0" stroke="#c82a3a" stroke-width="1.2"/>
<line x1="338.664" y1="985.9" x2="338.664" y2="989.3" stroke="#c82a3a" stroke-width="1.2"/>
<line x1="336.964" y1="985.9" x2="340.364" y2="985.9" stroke="#c82a3a" stroke-width="1.2"/>
<line x1="336.964" y1="989.3" x2="340.364" y2="989.3" stroke="#c82a3a" stroke-width="1.2"/>
<line x1="397.884" y1="987.8" x2="397.884" y2="994.4" stroke="#c82a3a" stroke-width="1.2"/>
<line x1="396.184" y1="987.8" x2="399.584" y2="987.8" stroke="#c82a3a" stroke-width="1.2"/>
<line x1="396.184" y1="994.4" x2="399.584" y2="994.4" stroke="#c82a3a" stroke-width="1.2"/>
<circle cx="279.4" cy="965.9" r="1.6" fill="#2a7030"/>
<circle cx="299.2" cy="976.3" r="1.6" fill="#2a7030"/>
<circle cx="318.9" cy="977.3" r="1.6" fill="#2a7030"/>
<circle cx="338.7" cy="980.7" r="1.6" fill="#2a7030"/>
<circle cx="358.4" cy="985.0" r="1.6" fill="#2a7030"/>
<circle cx="378.1" cy="989.3" r="1.6" fill="#2a7030"/>
<circle cx="279.4" cy="944.7" r="1.8" fill="#d8202c"/>
<circle cx="299.2" cy="969.8" r="1.8" fill="#d8202c"/>
<circle cx="318.9" cy="978.2" r="1.8" fill="#d8202c"/>
<circle cx="338.7" cy="987.6" r="1.8" fill="#d8202c"/>
<circle cx="358.4" cy="992.9" r="1.8" fill="#d8202c"/>
<circle cx="378.1" cy="990.7" r="1.8" fill="#d8202c"/>
<circle cx="397.9" cy="991.1" r="1.8" fill="#d8202c"/>
<text x="276.4" y="940.2" font-size="17.5" text-anchor="start" fill="#111" >*</text>
<line x1="349.9" y1="907.9" x2="356.5" y2="907.9" stroke="#2a7030" stroke-width="1.6"/>
<ellipse cx="353.2" cy="907.9" rx="2.4" ry="1.6" fill="#2a7030"/>
<line x1="349.9" y1="919.6" x2="356.5" y2="919.6" stroke="#c82a3a" stroke-width="1.6"/>
<ellipse cx="353.2" cy="919.6" rx="2.6" ry="1.8" fill="#d8202c"/>
<text x="359.8" y="910.7" font-size="7.6" text-anchor="start" fill="#111" >PKM2-WT</text>
<text x="359.8" y="922.4" font-size="7.6" text-anchor="start" fill="#111" >rod-cre PKM2-KO</text>
<text x="496.8" y="872.4" font-size="17.6" text-anchor="start" fill="#111" >E</text>
<line x1="491.3" y1="886.5" x2="491.3" y2="1025.3" stroke="#333" stroke-width="1.6"/>
<line x1="487.8" y1="1024.5" x2="660.5" y2="1024.5" stroke="#555" stroke-width="1.6"/>
<line x1="488.8" y1="1024.5" x2="491.3" y2="1024.5" stroke="#333" stroke-width="1.4"/>
<text x="487.2" y="1029.5" font-size="12.4" text-anchor="end" fill="#111" >0</text>
<line x1="488.8" y1="997.1" x2="491.3" y2="997.1" stroke="#333" stroke-width="1.4"/>
<text x="485.8" y="1002.1" font-size="12.4" text-anchor="end" fill="#111" >20</text>
<line x1="488.8" y1="969.7" x2="491.3" y2="969.7" stroke="#333" stroke-width="1.4"/>
<text x="485.8" y="974.7" font-size="12.4" text-anchor="end" fill="#111" >40</text>
<line x1="488.8" y1="942.3" x2="491.3" y2="942.3" stroke="#333" stroke-width="1.4"/>
<text x="485.8" y="947.3" font-size="12.4" text-anchor="end" fill="#111" >60</text>
<line x1="488.8" y1="914.9" x2="491.3" y2="914.9" stroke="#333" stroke-width="1.4"/>
<text x="485.8" y="919.9" font-size="12.4" text-anchor="end" fill="#111" >80</text>
<line x1="488.8" y1="887.5" x2="491.3" y2="887.5" stroke="#333" stroke-width="1.4"/>
<text x="485.8" y="892.5" font-size="12.4" text-anchor="end" fill="#111" >100</text>
<line x1="534.3" y1="915.3" x2="534.3" y2="922.3" stroke="#111" stroke-width="1.6"/>
<line x1="520.2" y1="915.3" x2="548.7" y2="915.3" stroke="#111" stroke-width="1.7"/>
<rect x="505.9" y="923.1999999999999" width="56.5" height="101.30000000000004" fill="#008000" stroke="#111" stroke-width="1.8"/>
<line x1="619.3" y1="932.5" x2="619.3" y2="938.5" stroke="#111" stroke-width="1.6"/>
<line x1="605.0" y1="932.5" x2="633.7" y2="932.5" stroke="#111" stroke-width="1.7"/>
<rect x="590.9" y="939.4" width="56.900000000000006" height="85.1" fill="#ff0000" stroke="#111" stroke-width="1.8"/>
<text x="533.9" y="1037.6" font-size="13" text-anchor="middle" fill="#111" >3.3</text>
<text x="619.5" y="1037.6" font-size="13" text-anchor="middle" fill="#111" >3.3</text>
<text x="504.5" y="1049.7" font-size="12.35" fill="#111">Flash Intensity (log cd s/m<tspan font-size="7.5" dy="-4.5">2</tspan><tspan dy="4.5">)</tspan></text>
<text transform="translate(461.4,1058.4) rotate(-90)" font-size="12.3" fill="#111">Photopic b-wave implicit time (ms)</text>
<text transform="translate(532.0,908.3) rotate(-41.5)" font-size="12.4" fill="#111">PKM2-WT</text>
<text transform="translate(614.5,927.1) rotate(-44)" font-size="12.4" fill="#111">rod-cre PKM2-KO</text>
</svg>
</body></html>
